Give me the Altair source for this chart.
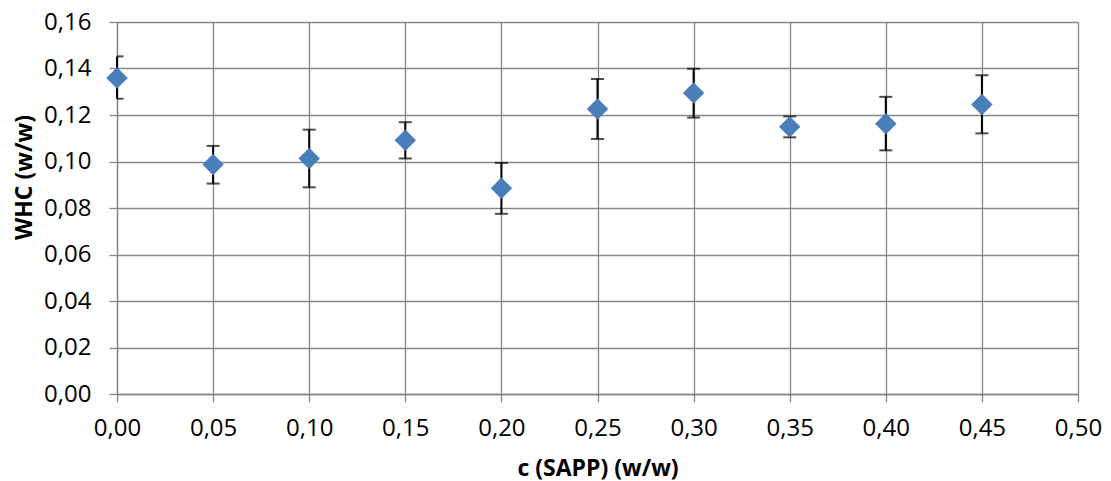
import altair as alt
import pandas as pd

conc = [0.00, 0.05, 0.10, 0.15, 0.20, 0.25, 0.30, 0.35, 0.40, 0.45]
whc = [0.1359, 0.0987, 0.1013, 0.1091, 0.0885, 0.1226, 0.1295, 0.1149, 0.1162, 0.1245]
whc_hi = [0.1452, 0.1067, 0.1137, 0.1169, 0.0994, 0.1355, 0.1399, 0.1194, 0.1278, 0.1371]
whc_lo = [0.1270, 0.0905, 0.0889, 0.1013, 0.0775, 0.1097, 0.1189, 0.1104, 0.1048, 0.1121]

x_ticks = [0.00, 0.05, 0.10, 0.15, 0.20, 0.25, 0.30, 0.35, 0.40, 0.45, 0.50]
y_ticks = [0.00, 0.02, 0.04, 0.06, 0.08, 0.10, 0.12, 0.14, 0.16]

df = pd.DataFrame({"c": conc, "whc": whc, "hi": whc_hi, "lo": whc_lo})

FONT = "Open Sans"
GRID = "#868686"
label_expr = "replace(format(datum.value, '.2f'), '.', ',')"

x_enc = alt.X(
    "c:Q",
    scale=alt.Scale(domain=[0, 0.5], nice=False, zero=False),
    axis=alt.Axis(
        values=x_ticks, title="c (SAPP) (w/w)", labelExpr=label_expr,
        labelFont=FONT, labelFontSize=24, labelColor="#000000", labelPadding=14,
        labelFlush=False, labelOverlap=False,
        titleFont=FONT, titleFontSize=23, titleFontWeight="bold", titleColor="#000000",
        titleAnchor="middle", titleBaseline="alphabetic", titleY=81,
        grid=True, gridColor=GRID, gridWidth=1.3,
        domainColor=GRID, domainWidth=1.3, tickColor=GRID, tickWidth=1.3, tickSize=8,
        zindex=0,
    ),
)
y_enc = alt.Y(
    "whc:Q",
    scale=alt.Scale(domain=[0, 0.16], nice=False, zero=False),
    axis=alt.Axis(
        values=y_ticks, title="WHC (w/w)", labelExpr=label_expr,
        labelFont=FONT, labelFontSize=24, labelColor="#000000", labelPadding=18,
        labelFlush=False, labelOverlap=False,
        titleFont=FONT, titleFontSize=23, titleFontWeight="bold", titleColor="#000000",
        titleAngle=270, titleAlign="center", titleBaseline="alphabetic",
        titleX=-86, titleY=155,
        grid=True, gridColor=GRID, gridWidth=1.3,
        domainColor=GRID, domainWidth=1.3, tickColor=GRID, tickWidth=1.3, tickSize=8,
        zindex=0,
    ),
)

base = alt.Chart(df)

rules = base.mark_rule(color="#000000", strokeWidth=2).encode(
    x=x_enc, y=alt.Y("lo:Q"), y2="hi:Q"
)
caps_hi = base.mark_tick(color="#000000", thickness=2, size=13, orient="horizontal", clip=True).encode(
    x="c:Q", y="hi:Q"
)
caps_lo = base.mark_tick(color="#000000", thickness=2, size=13, orient="horizontal", clip=True).encode(
    x="c:Q", y="lo:Q"
)
points = base.mark_point(shape="diamond", filled=True, size=460, color="#4A7EBB", opacity=1).encode(
    x="c:Q", y=y_enc
)

chart = (
    alt.layer(rules, caps_hi, caps_lo, points)
    .properties(
        width=961, height=372, autosize="none",
        padding={"left": 109, "top": 14, "right": 25, "bottom": 87},
        background="#ffffff",
    )
    .configure_view(stroke=None)
)

chart.save("out.html", embed_options={"renderer": "svg", "actions": False})
